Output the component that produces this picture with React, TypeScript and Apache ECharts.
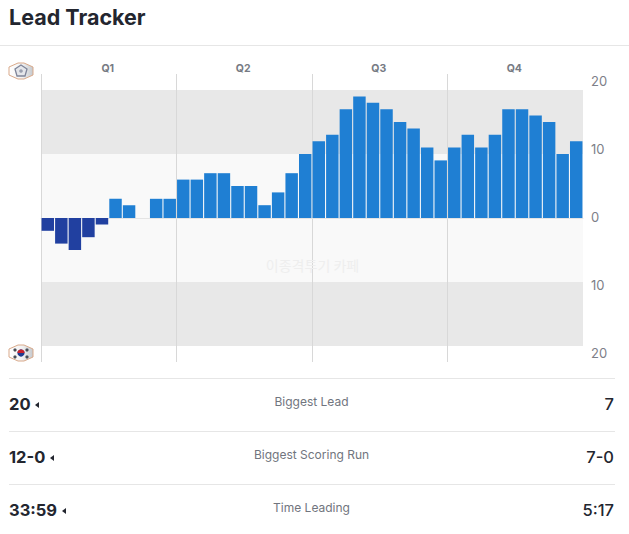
import React, { useEffect, useRef } from "react";
import * as echarts from "echarts";

const quarters = ["Q1", "Q2", "Q3", "Q4"];
const q1Lead = [-2, -4, -5, -3, -1, 3, 2, 0, 3, 3];
const q2Lead = [6, 6, 7, 7, 5, 5, 2, 4, 7, 10];
const q3Lead = [12, 13, 17, 19, 18, 17, 15, 14, 11, 9];
const q4Lead = [11, 13, 11, 13, 17, 17, 16, 15, 10, 12];
const leadValues = [...q1Lead, ...q2Lead, ...q3Lead, ...q4Lead];
const runs = leadValues.map((_, i) => String(i));
const statLabels = ["Biggest Lead", "Biggest Scoring Run", "Time Leading"];
const awayStats = ["20", "12-0", "33:59"];
const homeStats = ["7", "7-0", "5:17"];
const tickLabels = [-20, -10, 0, 10, 20];

const FONT = "Inter, 'Noto Sans', sans-serif";
const W = 629;
const H = 534;
const ROW_TOPS = [378, 431, 484];
const ARROW_X = [39, 54, 66];

function flagShell(cx: number, cy: number, children: any[]) {
  return {
    type: "group",
    x: cx,
    y: cy,
    silent: true,
    children: [
      {
        type: "polygon",
        shape: { points: [[-12, -4], [-3, -8], [3, -8], [12, -4], [12, 4], [3, 8], [-3, 8], [-12, 4]] },
        style: {
          fill: new echarts.graphic.LinearGradient(0, 0, 1, 0, [
            { offset: 0, color: "#ffffff" },
            { offset: 0.55, color: "#f2f2f2" },
            { offset: 1, color: "#c4c8cd" },
          ]),
          stroke: "#d9a98a",
          lineWidth: 1,
        },
      },
      ...children,
    ],
  };
}

function awayFlag() {
  return flagShell(21, 71, [
    {
      type: "polygon",
      shape: { points: [[0, -6], [6, -2], [4, 5], [-4, 5], [-6, -2]] },
      style: { fill: "#e4e6ea", stroke: "#7f8599", lineWidth: 1.3 },
    },
    { type: "circle", shape: { cx: 0, cy: 0, r: 1.8 }, style: { fill: "#9aa0b0" } },
  ]);
}

function homeFlag() {
  const dots = [[-6, -3], [6, -3], [-6, 4], [6, 4]];
  return flagShell(21, 353, [
    { type: "circle", shape: { cx: 0, cy: 0, r: 3.6 }, style: { fill: "#1f3a8f" } },
    { type: "sector", shape: { cx: 0, cy: 0, r: 3.6, r0: 0, startAngle: Math.PI, endAngle: Math.PI * 2 }, style: { fill: "#c8202c" } },
    ...dots.map(([cx, cy]) => ({ type: "circle", shape: { cx, cy, r: 1.6 }, style: { fill: "#4a4f58" } })),
  ]);
}

function statRows() {
  const out: any[] = [];
  statLabels.forEach((label, i) => {
    const top = ROW_TOPS[i];
    out.push({
      type: "line",
      shape: { x1: 9, y1: top + 0.5, x2: 615, y2: top + 0.5 },
      style: { stroke: "#e6e6e6", lineWidth: 1 },
    });
    out.push({
      type: "text",
      x: 9,
      y: top + 26,
      style: { text: awayStats[i], fontFamily: FONT, fontSize: 16.5, fontWeight: 700, fill: "#23262f", textVerticalAlign: "middle", textAlign: "left" },
    });
    out.push({
      type: "polygon",
      shape: { points: [[ARROW_X[i] - 4, top + 27], [ARROW_X[i], top + 24], [ARROW_X[i], top + 30]] },
      style: { fill: "#23262f" },
    });
    out.push({
      type: "text",
      x: 311.5,
      y: top + 23,
      style: { text: label, fontFamily: FONT, fontSize: 12, fill: "#71757e", textVerticalAlign: "middle", textAlign: "center" },
    });
    out.push({
      type: "text",
      x: 614,
      y: top + 26,
      style: { text: homeStats[i], fontFamily: FONT, fontSize: 16.5, fontWeight: 500, fill: "#23262f", textVerticalAlign: "middle", textAlign: "right" },
    });
  });
  return out;
}

export default function App() {
  const ref = useRef<HTMLDivElement>(null);
  useEffect(() => {
    document.body.style.margin = "0";
    const chart = echarts.init(ref.current!, null, { renderer: "svg", width: W, height: H });
    chart.setOption({
      animation: false,
      backgroundColor: "#ffffff",
      grid: { left: 41, right: 46, top: 74, height: 288, containLabel: false },
      xAxis: [
        {
          type: "category",
          data: runs,
          axisLine: { onZero: true, lineStyle: { color: "#e4e4e4", width: 1 } },
          axisTick: { show: false },
          axisLabel: { show: false },
          splitLine: { show: false },
          z: 2,
        },
        {
          type: "category",
          position: "top",
          data: quarters,
          axisLine: { show: false },
          axisTick: { show: false },
          axisLabel: { show: true, color: "#777b84", fontFamily: FONT, fontSize: 10.5, fontWeight: 700, margin: 0, padding: [0, 2, 0, 0] },
          splitLine: { show: true, showMaxLine: false, interval: 0, lineStyle: { color: "#d8d8d8", width: 1 } },
          z: 2,
        },
      ],
      yAxis: [
        {
          type: "value",
          min: -22.5,
          max: 22.5,
          axisLine: { show: false },
          axisTick: { show: false },
          axisLabel: { show: false },
          splitLine: { show: false },
        },
        {
          type: "value",
          position: "right",
          min: -21.3,
          max: 21,
          axisLine: { show: false },
          axisTick: { show: false },
          splitLine: { show: false },
          axisLabel: {
            show: true,
            customValues: tickLabels,
            margin: 8,
            color: "#7d8088",
            fontFamily: FONT,
            fontSize: 13,
            formatter: (v: number) => String(Math.abs(v)),
          },
        },
      ],
      series: [
        {
          name: "bands",
          type: "line",
          data: [],
          z: 1,
          silent: true,
          markArea: {
            silent: true,
            data: [
              [{ yAxis: 10, itemStyle: { color: "#e8e8e8" } }, { yAxis: 20 }],
              [{ yAxis: -10, itemStyle: { color: "#f9f9f9" } }, { yAxis: 10 }],
              [{ yAxis: -20, itemStyle: { color: "#e8e8e8" } }, { yAxis: -10 }],
            ],
          },
        },
        {
          name: "Lead",
          type: "bar",
          data: leadValues.map((v) => ({
            value: v,
            itemStyle: { color: v < 0 ? "#2140a0" : "#1f7fd3" },
          })),
          barWidth: "92%",
          z: 3,
        },
      ],
      graphic: {
        elements: [
          {
            type: "text",
            x: 9,
            y: 17,
            style: { text: "Lead Tracker", fontFamily: FONT, fontSize: 21.5, fontWeight: 700, fill: "#23262f", textVerticalAlign: "middle" },
          },
          {
            type: "line",
            shape: { x1: 0, y1: 45.5, x2: W, y2: 45.5 },
            style: { stroke: "#e6e6e6", lineWidth: 1 },
          },
          {
            type: "text",
            x: 312.5,
            y: 265,
            z: 10,
            style: { text: "이종격투기 카페", fontFamily: "'Noto Sans CJK KR'", fontSize: 14, fill: "#eeeeee", textAlign: "center", textVerticalAlign: "middle" },
          },
          awayFlag(),
          homeFlag(),
          ...statRows(),
        ],
      },
    });
    return () => chart.dispose();
  }, []);
  return <div ref={ref} style={{ position: "absolute", left: 0, top: 0, width: W, height: H }} />;
}
